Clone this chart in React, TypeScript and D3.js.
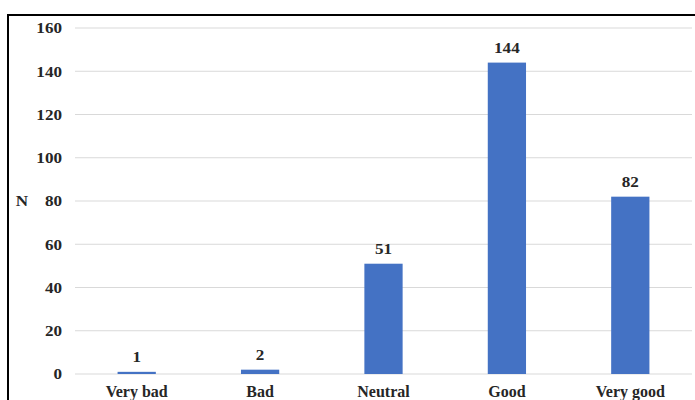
import React from "react";
import * as d3 from "d3";

const categories = ["Very bad", "Bad", "Neutral", "Good", "Very good"];
const values = [1, 2, 51, 144, 82];
const yTicks = [0, 20, 40, 60, 80, 100, 120, 140, 160];
const yLabel = "N";

export default function App() {
  const W = 695, H = 400;
  const left = 75, right = 692, top = 28, bottom = 374;
  const x = d3.scaleBand().domain(categories).range([left, right]).paddingInner(0.69).paddingOuter(0.345);
  const y = d3.scaleLinear().domain([0, 160]).range([bottom, top]);
  const font = "'Liberation Serif', 'Times New Roman', serif";
  const sx = 1.14;
  return (
    <svg width={W} height={H} style={{ position: "absolute", left: 0, top: 0, background: "#fff" }} fontFamily={font}>
      <rect x={0} y={0} width={W} height={H} fill="#fff" />
      <rect x={8} y={15} width={W + 10} height={H + 10} fill="none" stroke="#000" strokeWidth={2} />
      {yTicks.map((t) => (
        <g key={t}>
          <line x1={left} x2={right} y1={y(t)} y2={y(t)} stroke="#d9d9d9" strokeWidth={1.2} />
          <text transform={`translate(62,${y(t)}) scale(${sx},1)`} dy="0.35em" textAnchor="end" fontSize={15} fontWeight="bold" fill="#262626">{t}</text>
        </g>
      ))}
      <text transform={`translate(22,${y(80)}) scale(${sx},1)`} dy="0.35em" textAnchor="middle" fontSize={15} fontWeight="bold" fill="#262626">{yLabel}</text>
      {categories.map((c, i) => (
        <g key={c}>
          <rect x={x(c)!} y={y(values[i])} width={x.bandwidth()} height={Math.max(0, y(0) - y(values[i]))} fill="#4472c4" />
          <text transform={`translate(${x(c)! + x.bandwidth() / 2},${y(values[i]) - 10}) scale(${sx},1)`} textAnchor="middle" fontSize={15} fontWeight="bold" fill="#262626">{values[i]}</text>
          <text x={x(c)! + x.bandwidth() / 2} y={397} textAnchor="middle" fontSize={16} fontWeight="bold" fill="#262626">{c}</text>
        </g>
      ))}
    </svg>
  );
}
